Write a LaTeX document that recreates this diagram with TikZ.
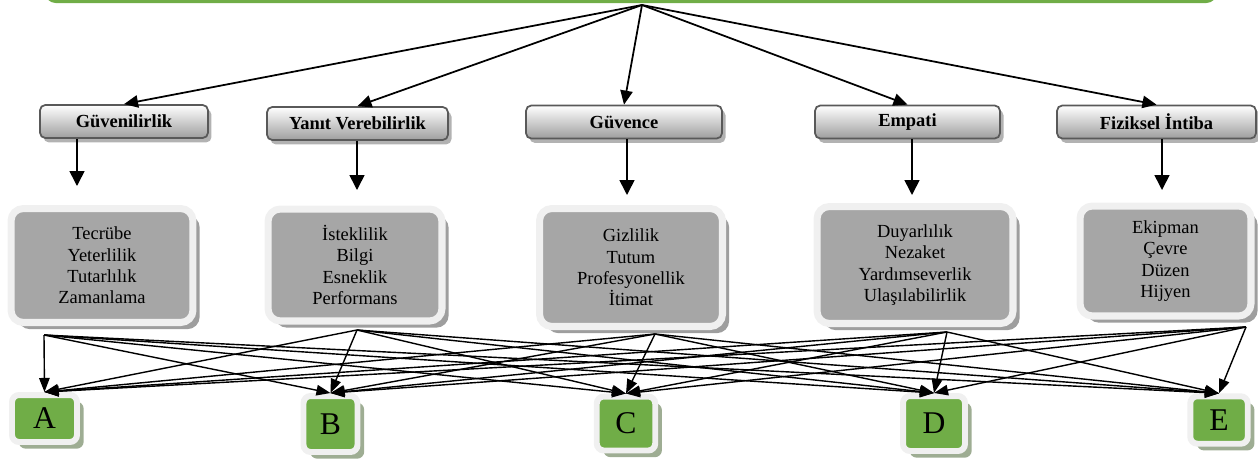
\documentclass[tikz,border=0pt]{standalone}
\usepackage{fontspec}
\setmainfont{Liberation Serif}
\usetikzlibrary{arrows.meta, shadows}

\definecolor{modelgreen}{HTML}{70AD47}
\definecolor{boxgray}{HTML}{A6A6A6}
\definecolor{rimgray}{HTML}{F0F0F0}
\definecolor{greenshade}{HTML}{9EAD93}

\begin{document}
\begin{tikzpicture}[
  x=0.02cm, y=-0.02cm,
  header/.style={draw=black!65, line width=1pt, rounded corners=3pt, top color=white, bottom color=black!38,
    minimum height=0.66cm, inner sep=1pt, font=\fontsize{10.5}{12}\selectfont\bfseries,
    drop shadow={shadow xshift=2pt, shadow yshift=-2.5pt, fill=black!30, opacity=1}},
  detail/.style={draw=rimgray, line width=4pt, fill=boxgray, rounded corners=7pt, align=center,
    font=\fontsize{10.5}{12.1}\selectfont,
    drop shadow={shadow xshift=3.8pt, shadow yshift=-3.8pt, fill=black!38, opacity=1}},
  grade/.style={draw=rimgray, line width=3.4pt, fill=modelgreen, rounded corners=4pt, inner sep=0pt,
    font=\fontsize{18}{20}\selectfont,
    drop shadow={shadow xshift=3.8pt, shadow yshift=-3.8pt, fill=greenshade, opacity=1}},
  toparr/.style={-{Triangle[length=8pt,width=7pt]}, line width=1pt},
  downarr/.style={-{Triangle[length=8.5pt,width=8.5pt]}, line width=0.9pt},
  linkarr/.style={-{Triangle[length=8pt,width=6pt]}, line width=0.8pt}
]
  \useasboundingbox (0,0) rectangle (1258,464);

  % model bar (only its lower edge is on the page)
  \node[fill=modelgreen, rounded corners=6pt, minimum width=23.44cm, minimum height=1cm, inner sep=0pt] (model) at (631,-22) {};
  \coordinate (apex) at (642,5);

  % dimensions
  \node[header, minimum width=3.36cm] (hdr1) at (124,121.5) {Güvenilirlik};
  \node[header, minimum width=3.62cm] (hdr2) at (357.5,123.5) {Yanıt Verebilirlik};
  \node[header, minimum width=3.92cm] (hdr3) at (624,122) {Güvence};
  \node[header, minimum width=3.70cm] (hdr4) at (907.5,122) {Empati};
  \node[header, minimum width=3.98cm] (hdr5) at (1156.5,122) {Fiziksel İntiba};

  % items
  \node[detail, minimum width=3.64cm, minimum height=2.28cm] (det1) at (102,265.5) {Tecrübe\\Yeterlilik\\Tutarlılık\\Zamanlama};
  \node[detail, minimum width=3.48cm, minimum height=2.24cm] (det2) at (355,265) {İsteklilik\\Bilgi\\Esneklik\\Performans};
  \node[detail, minimum width=3.66cm, minimum height=2.36cm] (det3) at (631,267.5) {Gizlilik\\Tutum\\Profesyonellik\\İtimat};
  \node[detail, minimum width=3.92cm, minimum height=2.34cm] (det4) at (915,265) {Duyarlılık\\Nezaket\\Yardımseverlik\\Ulaşılabilirlik};
  \node[detail, minimum width=3.42cm, minimum height=2.20cm] (det5) at (1165.5,261) {Ekipman\\Çevre\\Düzen\\Hijyen};

  % grades
  \node[grade, minimum width=1.30cm, minimum height=0.94cm] (a) at (44.5,418.5) {A};
  \node[grade, minimum width=1.08cm, minimum height=1.12cm] (b) at (330.5,424) {B};
  \node[grade, minimum width=1.17cm, minimum height=1.08cm] (c) at (626,423.5) {C};
  \node[grade, minimum width=1.24cm, minimum height=1.10cm] (d) at (934,423.5) {D};
  \node[grade, minimum width=1.15cm, minimum height=0.95cm] (e) at (1219,420) {E};

  % model -> dimensions
  \foreach \h in {hdr1,hdr2,hdr3,hdr4,hdr5}
    \draw[toparr] (apex) -- (\h.north);

  % dimensions -> items
  \coordinate (d1) at (77,186);
  \coordinate (d2) at (357,190);
  \coordinate (d3) at (627,195);
  \coordinate (d4) at (912,195);
  \coordinate (d5) at (1162,190);
  \foreach \i in {1,...,5}
    \draw[downarr] (hdr\i.south -| d\i) -- (d\i);

  % items -> grades
  \coordinate (o1) at (44,335);
  \coordinate (o2) at (357,330);
  \coordinate (o3) at (655,334);
  \coordinate (o4) at (947,332);
  \coordinate (o5) at (1246,327);
  \foreach \s in {o1,o2,o3,o4,o5}
    \foreach \t in {a,b,c,d,e}
      \draw[linkarr] (\s) -- (\t.north);
\end{tikzpicture}
\end{document}
